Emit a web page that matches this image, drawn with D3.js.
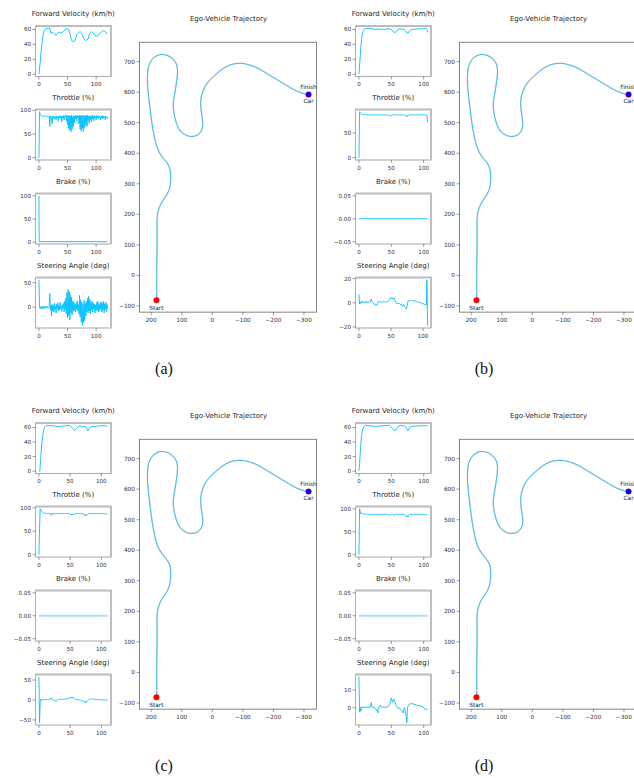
<!DOCTYPE html>
<html>
<head>
<meta charset="utf-8">
<script src="https://cdn.jsdelivr.net/npm/d3@7"></script>
<style>
  body { margin: 0; background: #fff; }
  svg { display: block; font-family: "DejaVu Sans", sans-serif; }
</style>
</head>
<body>
<div id="chart"></div>
<script>
// ---------- data ----------
// velocity: [time, km/h]
const velocityA = [[0,0],[2,14],[4,32],[6,46],[8,55],[10,59],[12,61],[16,61.5],[19,61],[21,55],[24,56],[27,54],[30,52],[33,55],[35,56.5],[38,55],[41,56],[44,58],[47,60.5],[50,61],[52,60],[54,55],[56,48],[58,44],[61,44],[63,45],[65,50],[67,54],[70,56],[72,57],[74,56],[76,52],[78,48],[80,46],[83,45.5],[86,47],[88,53],[90,56],[92,57],[95,55],[98,52],[101,51],[104,52],[107,55],[110,57],[113,58.5],[116,57],[118,55],[120,54]];
const velocityB = [[0,0],[1,12],[2,24],[3,36],[4,46],[5,53],[6,57],[8,60],[10,61],[15,61.5],[20,61],[25,60],[30,60.5],[35,60],[40,60],[45,61],[49,60.5],[51,59],[53,56.5],[56,56],[58,57],[60,60],[62,61],[66,60.5],[70,60],[72,58],[74,55.5],[76,55],[78,58],[80,59.5],[84,60],[90,60.5],[95,61],[100,61],[103,61.5],[105,60],[106,56]];
const velocityC = [[0,0],[1.5,0],[2.5,12],[3.5,26],[4.5,38],[6,48],[7.5,56],[9,60],[11,62.5],[14,63],[18,62.5],[23,62.5],[27,61.5],[31,61],[35,61.5],[39,62],[44,62.5],[50,62.5],[53,60],[55.5,57],[57.5,56],[60,58],[62,60.5],[66,62.5],[69,61],[72,61.5],[75,61],[77,58],[78.5,55.5],[80,58],[82,60.5],[86,61.5],[90,61.5],[95,62],[100,62.5],[105,62.5],[108,62],[110,61]];
const velocityD = [[0,0],[1,10],[2,25],[3,38],[4,48],[5,54],[6,58],[8,61.5],[10,63],[14,62.5],[20,62],[27,61.5],[33,62],[40,62.5],[47,63],[50,61],[52,58],[54,56.5],[57,56],[59,59.5],[61,62],[64,63],[69,62],[72,61.5],[74,58],[75.5,55.5],[77,58],[79,60.5],[82,61.5],[88,62],[94,62.5],[100,62.5],[104,62.5],[106,62]];

// throttle (%) sampled once per time unit
const throttleA = [
  0, 97, 93, 91, 89, 88, 88, 87, 88, 88,
  87, 88, 88, 87, 88, 88, 87, 88, 88, 66,
  86, 88, 84, 72, 87, 85, 88, 82, 87, 86,
  80, 88, 84, 87, 78, 88, 85, 89, 83, 87,
  76, 88, 84, 89, 80, 88, 86, 90, 78, 89,
  70, 90, 62, 89, 58, 88, 55, 90, 60, 87,
  66, 89, 74, 88, 82, 90, 78, 89, 84, 88,
  72, 90, 60, 89, 56, 90, 62, 88, 55, 90,
  64, 88, 70, 89, 66, 90, 78, 88, 72, 89,
  80, 88, 76, 90, 82, 88, 78, 89, 84, 87,
  80, 89, 85, 88, 82, 89, 86, 87, 80, 88,
  84, 89, 82, 88, 86, 87, 80, 88, 84, 86, 82];
const throttleB = [
  0, 93, 91, 90, 89, 88, 88, 87.5, 88, 87,
  87, 87.5, 87, 86.5, 87, 87, 86.5, 87, 87, 86,
  87, 87, 86.5, 87, 87, 86.5, 86, 87, 87, 86.5,
  87, 86.5, 87, 87, 86, 87, 87, 86.5, 87, 87,
  86.5, 87, 87, 86, 86.5, 86, 85, 85.5, 86, 85,
  86, 87, 88, 87.5, 87, 86.5, 87, 87, 86.5, 87,
  87, 86.5, 87, 87, 86, 87, 86.5, 87, 87, 86.5,
  87, 86, 85, 84, 86, 83, 85, 86.5, 87, 86,
  87, 87, 86.5, 87, 87, 86, 87, 87, 86.5, 87,
  87, 86.5, 87, 87, 86.5, 87, 87, 86.5, 87, 87,
  86.5, 87, 87, 86.5, 87, 86, 72];
const throttleC = [
  0, 55, 98, 95, 93, 92, 91, 90, 89.5, 89,
  88.5, 88.5, 88, 88.5, 88, 88, 88.5, 88, 88, 88,
  84, 88, 87.5, 88, 86, 88, 88.5, 87, 88, 88,
  87.5, 88, 86.5, 88, 88, 87, 88, 87.5, 88, 88,
  87.5, 88, 88, 87.5, 88, 87, 88, 88, 87.5, 88,
  86, 85, 87, 84.5, 86, 87, 85, 86.5, 88, 88,
  87.5, 88, 88, 87, 88, 88, 86.5, 88, 88, 87.5,
  88, 87, 86, 84, 86, 83, 85, 84, 86, 87.5,
  88, 87.5, 88, 88, 87, 88, 88, 87.5, 88, 88,
  87.5, 88, 88, 87.5, 88, 88, 87.5, 88, 88, 87.5,
  88, 87.5, 88, 88, 87, 87.5, 88, 87.5, 87, 87, 86.5];
const throttleD = [
  0, 100, 93, 89, 91, 90, 89.5, 89, 88.5, 88.5,
  88, 88.5, 88, 88.5, 88, 88, 88.5, 88, 88, 87,
  86, 88, 88.5, 88, 87, 88, 88.5, 88, 87.5, 88,
  88, 87.5, 88, 88.5, 88, 87.5, 88, 88, 87.5, 88,
  88, 88.5, 88, 87.5, 88, 87, 86.5, 87, 86, 87,
  88, 88.5, 88, 87, 86, 86.5, 87.5, 88, 88.5, 88,
  88, 87.5, 88, 88, 87.5, 88, 88, 87, 88, 88,
  87.5, 87, 86, 84, 82, 85, 83, 86, 87.5, 88,
  88, 87.5, 88, 88, 87.5, 88, 88.5, 88, 87.5, 88,
  88, 87.5, 88, 88, 87.5, 88, 88, 87.5, 88, 87.5,
  88, 87.5, 87, 87.5, 87, 86.5, 87];

// brake (%): [time, value]
const brakeA = [[0, 100], [0.4, 1], [120, 1]];
const brakeB = [[0, 0], [106, 0]];
const brakeC = [[0, 0], [110, 0]];
const brakeD = [[0, 0], [106, 0]];

// steering angle (deg) sampled once per time unit
const steeringA = [
  56, 2, -3, 1, 0, -4, 2, -2, 1, -3,
  2, 0, -2, 1, -1, 2, -2, 0, 1, 28,
  -6, 4, -18, 6, -8, 3, -10, 8, -5, 2,
  -12, 6, -3, 9, -8, 4, -6, 10, -4, 2,
  -9, 5, -2, 8, -10, 12, -6, 18, -14, 30,
  -22, 36, -18, 32, -26, 25, -12, 20, -16, 12,
  -8, 10, -6, 6, -10, 8, -4, 12, -8, 5,
  -14, 24, -20, 15, -30, 10, -38, 6, -32, 14,
  -28, 8, -18, 12, -10, 18, -12, 22, -8, 16,
  -14, 10, -6, 12, -10, 8, -4, 6, -12, 4,
  -8, 10, -6, 12, -10, 6, -8, 9, -4, 11,
  -10, 8, -6, 12, -12, 7, -5, 10, -9, 6, -3];
const steeringB = [
  7, -1, 0.5, -0.5, 1, 0, 1, 0.5, 1, 0,
  1, 0.5, 1, 0, 1, 0.5, 1, 0.5, 1, 3,
  1.5, 0.5, 0, -1, -1.5, -2, -1, -1.5, -2, -0.5,
  1, 1.5, 1, 0.5, 1, 0.5, 1, 0.5, 1, 0.5,
  1, 0.5, 1, 0.5, 1, 1, 1.5, 2, 3, 4,
  4.5, 3.5, 4, 3, 3.5, 4, 2, 0.5, -0.5, 0,
  -0.5, 0, -1, -0.5, -1, -1.5, -1, -2, -3, -2,
  -1.5, -3, -4, -4.5, -5, -3, 0, 2, 1.5, 2,
  2, 2.5, 2, 1.5, 2, 1.5, 2, 1, 1.5, 1,
  1, 0.5, 1, 0.5, 0, 0.5, 0, -0.5, 0, -1,
  -0.5, -1, -1.5, -1, -1.5, -2, 19, -19];
const steeringC = [
  58, -57, -4, 2, -1, 1, 0.5, 1, 0, 1,
  0.5, 1, 1.5, 1, 0.5, 1, 1, 1.5, 2, 5,
  2, 1, 0.5, 0, -1, -2, -1.5, -2, -2.5, -1,
  0, 1, 1.5, 1, 1.5, 2, 1.5, 1, 1.5, 2,
  1.5, 2, 2.5, 2, 2.5, 3, 2.5, 3, 4, 5,
  6, 5, 7.5, 4, 6, 7, 5, 3, 2, 1,
  1.5, 1, 0.5, 1, 0, -0.5, 0, -1, -0.5, -1,
  -1.5, -3, -5, -4, -6, -3, -6.5, -4, -2, 0,
  1, 2, 2.5, 2, 3, 2.5, 2, 2.5, 2, 1.5,
  2, 1.5, 1, 1.5, 1, 0.5, 1, 0.5, 0, 0.5,
  0, 0.5, 0, -0.5, 0, 0.5, 0, -0.5, 0, -0.5, -1];
const steeringD = [
  17.5, -2.5, 0, -2, 0.5, 0, 0.5, 0, 0.5, 0,
  0.5, 0, 0.5, 0.5, 0, 0.5, 0.5, 0, 0.5, 3,
  0.5, 0.5, 0, 0.5, 0, -0.5, -1, -1.5, -1, -3,
  -1, 0.5, 1, 1.5, 0.5, 0.5, 0, 0.5, 0.5, 0,
  0.5, 0.5, 0, 0.5, 0.5, 1, 1, 1.5, 2.5, 4,
  5.5, 4, 3, 4.5, 5, 3.5, 3, 1.5, 1, 0.5,
  0, -0.5, 0, -0.5, -1, -1, -1.5, -2, -3, -1.5,
  0, -1, -3, -5, -8.5, 0, 1, 1.5, 2, 2,
  2.5, 2, 2, 2.5, 2, 2, 1.5, 2, 1.5, 1.5,
  1.5, 1, 1.5, 1, 1, 1, 0.5, 1, 0.5, 0.5,
  0, -0.5, -1, -0.5, -0.5, -1, -1.5];

// ego-vehicle trajectory (same route in all four runs)
const trajX = [182, 182, 181, 180, 176, 168, 157, 147, 140, 137, 136, 138, 144, 158, 172, 181, 188, 193, 198, 203, 208, 212, 212, 209, 200, 190, 175, 160, 145, 130, 119, 114, 115, 119, 124, 128, 126, 121, 114, 104, 88, 72, 55, 42, 34, 31, 33, 36, 38, 36, 30, 20, 4, -15, -35, -58, -80, -100, -125, -150, -180, -210, -240, -265, -290, -315];
const trajY = [-80, 0, 100, 195, 215, 235, 252, 268, 285, 305, 325, 345, 362, 380, 400, 420, 445, 470, 500, 540, 580, 625, 655, 683, 703, 714, 722, 723, 719, 709, 695, 675, 650, 620, 590, 560, 535, 510, 490, 472, 460, 455, 457, 465, 478, 495, 515, 535, 560, 585, 605, 625, 644, 661, 677, 689, 694, 694, 688, 678, 660, 642, 624, 609, 598, 592];
const startPoint = [183, -81];
const finishPoint = [-315, 592];

// tick labels
const timeTicks = [0, 50, 100];
const velocityTicks = [0, 20, 40, 60];
const throttleTicks = { a: [0, 50, 100], b: [0, 50], c: [0, 50, 100], d: [0, 50, 100] };
const brakeTicks = { a: [0, 50, 100], b: [-0.05, 0, 0.05], c: [-0.05, 0, 0.05], d: [-0.05, 0, 0.05] };
const steeringTicks = { a: [0, 50], b: [-20, 0, 20], c: [-50, 0, 50], d: [0, 10] };
const trajXTicks = [200, 100, 0, -100, -200, -300];
const trajYTicks = [-100, 0, 100, 200, 300, 400, 500, 600, 700];
const subplotTitles = ['Forward Velocity (km/h)', 'Throttle (%)', 'Brake (%)', 'Steering Angle (deg)'];
const panelLabels = ['(a)', '(b)', '(c)', '(d)'];

// ---------- layout ----------
const W = 634, H = 778;
const lineColor = '#00bfff';
const small = { left: 35.5, width: 75.5, height: 50.5, tops: [26, 109.5, 193.5, 277.5] };
const traj = { left: 139.5, top: 42.3, k: 0.3055 };

const svg = d3.select('#chart').append('svg')
  .attr('width', W)
  .attr('height', H);

const toPairs = arr => arr.map((v, i) => [i, v]);

const panels = [
  { key: 'a', dx: 0, dy: 0, vel: velocityA, thr: toPairs(throttleA), brk: brakeA, str: toPairs(steeringA), thickBrake: false },
  { key: 'b', dx: 320, dy: 0, vel: velocityB, thr: toPairs(throttleB), brk: brakeB, str: toPairs(steeringB), thickBrake: false },
  { key: 'c', dx: 0, dy: 397, vel: velocityC, thr: toPairs(throttleC), brk: brakeC, str: toPairs(steeringC), thickBrake: true },
  { key: 'd', dx: 320, dy: 397, vel: velocityD, thr: toPairs(throttleD), brk: brakeD, str: toPairs(steeringD), thickBrake: true }
];

// matplotlib-like autoscale with 5% margins
function padded(ext) {
  if (ext[0] === ext[1]) return [ext[0] - 0.055, ext[0] + 0.055];
  const m = (ext[1] - ext[0]) * 0.05;
  return [ext[0] - m, ext[1] + m];
}

function drawSmall(g, top, title, data, yTicks, style) {
  const x = d3.scaleLinear()
    .domain(padded(d3.extent(data, d => d[0])))
    .range([small.left, small.left + small.width]);
  const y = d3.scaleLinear()
    .domain(padded(d3.extent(data, d => d[1])))
    .range([top + small.height, top]);
  const decimals = yTicks.some(t => t !== 0 && Math.abs(t) < 1);
  const yFmt = decimals ? d3.format('.2f') : d3.format('d');

  g.append('text')
    .attr('x', small.left + small.width / 2)
    .attr('y', top - 10)
    .attr('text-anchor', 'middle')
    .attr('font-size', 7)
    .attr('fill', '#262626')
    .text(title);

  const line = d3.line().x(d => x(d[0])).y(d => y(d[1]));
  g.append('path')
    .datum(data)
    .attr('d', line)
    .attr('fill', 'none')
    .attr('stroke', style.thick ? '#a3e1f8' : lineColor)
    .attr('stroke-width', style.thick ? 2.2 : 0.9)
    .attr('stroke-linejoin', 'round');

  g.append('rect')
    .attr('x', small.left)
    .attr('y', top)
    .attr('width', small.width)
    .attr('height', small.height)
    .attr('fill', 'none')
    .attr('stroke', '#b0b0b0')
    .attr('stroke-width', 1.1);
  // heavier top/right edge as in the source render
  g.append('path')
    .attr('d', `M${small.left},${top}H${small.left + small.width}V${top + small.height}`)
    .attr('fill', 'none')
    .attr('stroke', '#bdbdbd')
    .attr('stroke-width', 1.8);

  const yAxis = g.append('g');
  yTicks.forEach(t => {
    const yy = y(t);
    yAxis.append('line')
      .attr('x1', small.left - 3).attr('x2', small.left)
      .attr('y1', yy).attr('y2', yy)
      .attr('stroke', '#555').attr('stroke-width', 0.6);
    yAxis.append('text')
      .attr('x', small.left - 4.5)
      .attr('y', yy)
      .attr('dy', '0.35em')
      .attr('text-anchor', 'end')
      .attr('font-size', 5.6)
      .attr('fill', '#333')
      .text(yFmt(t));
  });

  const xAxis = g.append('g');
  timeTicks.forEach(t => {
    const xx = x(t);
    xAxis.append('line')
      .attr('x1', xx).attr('x2', xx)
      .attr('y1', top + small.height).attr('y2', top + small.height + 3)
      .attr('stroke', '#555').attr('stroke-width', 0.6);
    xAxis.append('text')
      .attr('x', xx)
      .attr('y', top + small.height + 9.5)
      .attr('text-anchor', 'middle')
      .attr('font-size', 5.6)
      .attr('fill', '#333')
      .text(d3.format('d')(t));
  });
}

function drawTrajectory(g) {
  const xr = padded(d3.extent(trajX));
  const yr = padded(d3.extent(trajY));
  const w = (xr[1] - xr[0]) * traj.k;
  const h = (yr[1] - yr[0]) * traj.k;
  const x = d3.scaleLinear().domain([xr[1], xr[0]]).range([traj.left, traj.left + w]);
  const y = d3.scaleLinear().domain(yr).range([traj.top + h, traj.top]);

  g.append('text')
    .attr('x', traj.left + 89)
    .attr('y', 21)
    .attr('text-anchor', 'middle')
    .attr('font-size', 7)
    .attr('fill', '#262626')
    .text('Ego-Vehicle Trajectory');

  const pts = trajX.map((v, i) => [v, trajY[i]]);
  const line = d3.line().x(d => x(d[0])).y(d => y(d[1])).curve(d3.curveCatmullRom);
  g.append('path')
    .datum(pts)
    .attr('d', line)
    .attr('fill', 'none')
    .attr('stroke', '#dadada')
    .attr('stroke-width', 1.6);
  g.append('path')
    .datum(pts)
    .attr('d', line)
    .attr('fill', 'none')
    .attr('stroke', '#3fc1f0')
    .attr('stroke-width', 1.0);

  g.append('rect')
    .attr('x', traj.left).attr('y', traj.top)
    .attr('width', w).attr('height', h)
    .attr('fill', 'none')
    .attr('stroke', '#777')
    .attr('stroke-width', 0.9);

  // start / finish markers
  g.append('circle')
    .attr('cx', x(startPoint[0])).attr('cy', y(startPoint[1]))
    .attr('r', 3).attr('fill', '#ff0000');
  g.append('text')
    .attr('x', x(startPoint[0])).attr('y', y(startPoint[1]) + 9.5)
    .attr('text-anchor', 'middle').attr('font-size', 5.8).attr('fill', '#222')
    .text('Start');
  g.append('circle')
    .attr('cx', x(finishPoint[0])).attr('cy', y(finishPoint[1]))
    .attr('r', 3).attr('fill', '#ff0000');
  g.append('circle')
    .attr('cx', x(finishPoint[0])).attr('cy', y(finishPoint[1]))
    .attr('r', 2.6).attr('fill', '#0000ff');
  g.append('text')
    .attr('x', x(finishPoint[0])).attr('y', y(finishPoint[1]) - 6)
    .attr('text-anchor', 'middle').attr('font-size', 5.8).attr('fill', '#222')
    .text('Finish');
  g.append('text')
    .attr('x', x(finishPoint[0])).attr('y', y(finishPoint[1]) + 8)
    .attr('text-anchor', 'middle').attr('font-size', 5.8).attr('fill', '#222')
    .text('Car');

  trajYTicks.forEach(t => {
    g.append('line')
      .attr('x1', traj.left - 3).attr('x2', traj.left)
      .attr('y1', y(t)).attr('y2', y(t))
      .attr('stroke', '#555').attr('stroke-width', 0.6);
    g.append('text')
      .attr('x', traj.left - 4.5).attr('y', y(t)).attr('dy', '0.35em')
      .attr('text-anchor', 'end').attr('font-size', 5.8).attr('fill', '#333')
      .text(d3.format('d')(t));
  });
  trajXTicks.forEach(t => {
    g.append('line')
      .attr('x1', x(t)).attr('x2', x(t))
      .attr('y1', traj.top + h).attr('y2', traj.top + h + 3)
      .attr('stroke', '#555').attr('stroke-width', 0.6);
    g.append('text')
      .attr('x', x(t)).attr('y', traj.top + h + 10)
      .attr('text-anchor', 'middle').attr('font-size', 5.8).attr('fill', '#333')
      .text(d3.format('d')(t));
  });
}

panels.forEach((p, i) => {
  const g = svg.append('g').attr('transform', `translate(${p.dx},${p.dy})`);
  drawSmall(g, small.tops[0], subplotTitles[0], p.vel, velocityTicks, {});
  drawSmall(g, small.tops[1], subplotTitles[1], p.thr, throttleTicks[p.key], {});
  drawSmall(g, small.tops[2], subplotTitles[2], p.brk, brakeTicks[p.key], { thick: p.thickBrake });
  drawSmall(g, small.tops[3], subplotTitles[3], p.str, steeringTicks[p.key], {});
  drawTrajectory(g);

  g.append('text')
    .attr('x', 164)
    .attr('y', 374)
    .attr('text-anchor', 'middle')
    .attr('font-family', '"Liberation Serif", serif')
    .attr('font-size', 16)
    .attr('fill', '#111')
    .text(panelLabels[i]);
});
</script>
</body>
</html>
